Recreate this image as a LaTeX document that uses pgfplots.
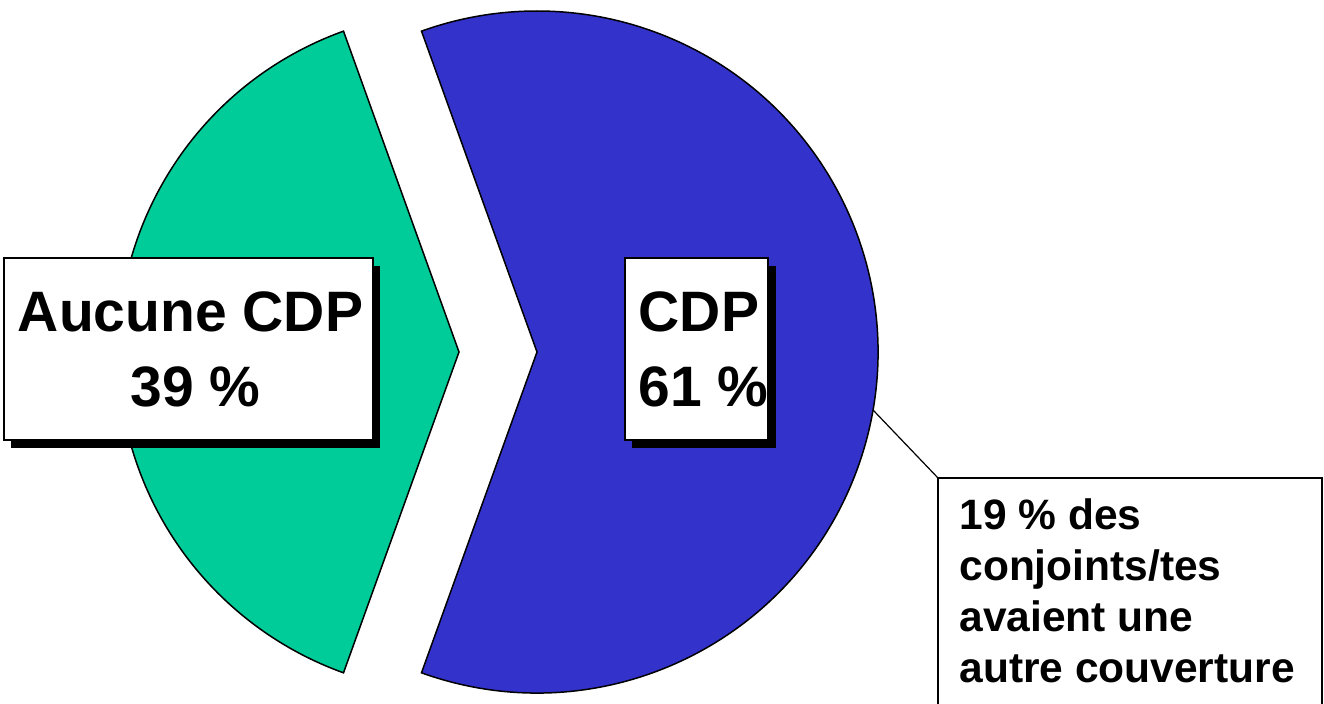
\documentclass[border=0pt]{standalone}
\usepackage{pgfplots}
\usepackage{pgfplotstable}
\pgfplotsset{compat=1.18}
\usepackage{fontspec}
\setmainfont{Liberation Sans}
\definecolor{cdpblue}{RGB}{51,51,204}
\definecolor{nogreen}{RGB}{0,204,153}
\pgfplotstableread{
label value
CDP 61
Aucune 39
}\piedata
\begin{document}
\begin{tikzpicture}
\pgfplotstablegetelem{0}{value}\of\piedata \let\vCDP\pgfplotsretval
\pgfplotstablegetelem{1}{value}\of\piedata \let\vNo\pgfplotsretval
\pgfmathsetmacro{\halfCDP}{\vCDP*3.6/2}
\pgfmathsetmacro{\startNo}{\halfCDP}
\pgfmathsetmacro{\endNo}{\halfCDP+\vNo*3.6}
\pgfmathsetmacro{\startCDP}{-\halfCDP}
\begin{axis}[x=0.5pt,y=0.5pt,xmin=0,xmax=1324,ymin=0,ymax=704,
  hide axis, clip=true]
\coordinate (SW) at (axis cs:0,0);
\coordinate (NE) at (axis cs:1324,704);
% CDP slice (blue)
\filldraw[fill=cdpblue, draw=black, line width=0.75pt, line join=miter]
  (axis cs:537,352) -- ++(\startCDP:170.5pt)
  arc[start angle=\startCDP, end angle=\halfCDP, radius=170.5pt] -- cycle;
% Aucune CDP slice (green)
\filldraw[fill=nogreen, draw=black, line width=0.75pt, line join=miter]
  (axis cs:459,352) -- ++(\startNo:170.5pt)
  arc[start angle=\startNo, end angle=\endNo, radius=170.5pt] -- cycle;
% label box 1
\fill[black] (axis cs:11,256) rectangle (axis cs:380,438);
\filldraw[fill=white, draw=black, line width=0.75pt] (axis cs:4,264) rectangle (axis cs:373,446);
\node[anchor=base, inner sep=0pt, font=\fontsize{28.5pt}{34pt}\selectfont\bfseries] at (axis cs:190.5,372) {Aucune CDP};
\node[anchor=base, inner sep=0pt, font=\fontsize{28.5pt}{34pt}\selectfont\bfseries] at (axis cs:195.5,297) {39 \%};
% label box 2
\fill[black] (axis cs:632,256) rectangle (axis cs:776,438);
\filldraw[fill=white, draw=black, line width=0.75pt] (axis cs:625,264) rectangle (axis cs:768,446);
\node[anchor=base, inner sep=0pt, font=\fontsize{28.5pt}{34pt}\selectfont\bfseries] at (axis cs:699,372) {CDP};
\node[anchor=base, inner sep=0pt, font=\fontsize{28.5pt}{34pt}\selectfont\bfseries] at (axis cs:703.5,297) {61 \%};
% callout
\draw[black, line width=0.6pt] (axis cs:873,294) -- (axis cs:938,226);
\draw[black, line width=0.75pt, fill=white] (axis cs:938,-20) rectangle (axis cs:1322,226);
\node[anchor=base west, inner sep=0pt, font=\fontsize{21.25pt}{26pt}\selectfont\bfseries] at (axis cs:959,174) {19 \% des};
\node[anchor=base west, inner sep=0pt, font=\fontsize{21.25pt}{26pt}\selectfont\bfseries] at (axis cs:959,123) {conjoints/tes};
\node[anchor=base west, inner sep=0pt, font=\fontsize{21.25pt}{26pt}\selectfont\bfseries] at (axis cs:959,72) {avaient une};
\node[anchor=base west, inner sep=0pt, font=\fontsize{21.25pt}{26pt}\selectfont\bfseries] at (axis cs:959,21) {autre couverture};
\end{axis}
\pgfresetboundingbox
\useasboundingbox (SW) rectangle (NE);
\end{tikzpicture}
\end{document}
